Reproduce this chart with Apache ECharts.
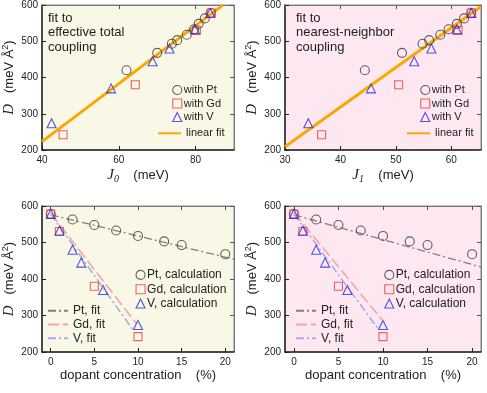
<!DOCTYPE html>
<html><head><meta charset="utf-8">
<script src="https://cdn.jsdelivr.net/npm/echarts@6/dist/echarts.min.js"></script>
<style>html,body{margin:0;padding:0;background:#fff}#c{width:487px;height:393px}</style>
</head><body><div id="c"></div><script>
// ---- Top-left: D vs J0 ----
const j0Pt = [62.0, 70.0, 73.8, 75.2, 77.7, 79.6, 80.8, 82.4, 83.9];
const dPt  = [420, 468, 493, 503, 518, 533, 548, 563, 578];
const j0Gd = [45.5, 64.3, 80.2, 84.1];
const dGd  = [242, 380, 530, 578];
const j0V  = [42.5, 58.0, 68.8, 73.2, 79.8, 83.8];
const dV   = [274, 370, 445, 480, 533, 578];
const j0Fit = [40, 87];
const dFitJ0 = [223, 599];
// ---- Top-right: D vs J1 ----
const j1Pt = [44.4, 51.1, 54.8, 56.0, 58.0, 59.5, 61.0, 62.3, 63.6];
const j1Gd = [36.6, 50.5, 61.2, 63.6];
const j1V  = [34.2, 45.5, 53.3, 56.4, 61.0, 63.6];
const j1Fit = [30, 65.3];
const dFitJ1 = [209, 595];
// ---- Bottom: D vs dopant concentration ----
const concPt = [0, 2.5, 5, 7.5, 10, 13, 15, 20];
const dConcPt = [578, 563, 548, 533, 518, 503, 493, 468];
const concGd = [0, 1, 5, 10];
const dConcGd = [578, 530, 380, 242];
const concV = [0, 1, 2.5, 3.5, 6, 10];
const dConcV = [578, 533, 480, 445, 370, 274];
// fits (left panel)
const ptFitXL = [0, 21], ptFitYL = [576, 454];
const gdFitXL = [0, 9.8], gdFitYL = [580, 278];
const vFitXL  = [0, 9.5], vFitYL  = [578, 258];
// fits (right panel)
const ptFitXR = [0, 21], ptFitYR = [576, 433];
const gdFitXR = [0, 9.9], gdFitYR = [582, 288];
const vFitXR  = [0, 9.5], vFitYR  = [578, 262];
// tick labels
const yTicks = [200, 300, 400, 500, 600];
const j0Ticks = [40, 60, 80];
const j1Ticks = [30, 40, 50, 60];
const concTicks = [0, 5, 10, 15, 20];

const zip = (a, b) => a.map((v, i) => [v, b[i]]);
const SANS = 'Liberation Sans', SERIF = 'Liberation Serif';
const TXT = '#222';
const CREAM = '#f9f8e6', PINK = '#fde8f1';
const C_PT = '#3a3a3a', C_GD = '#f03a3a', C_V = '#2828e6', C_FIT = '#f8a800';

const nameRich = {
  it: {fontFamily: SERIF, fontStyle: 'italic', fontSize: 15, color: TXT, lineHeight: 17},
  sub: {fontFamily: SERIF, fontStyle: 'italic', fontSize: 10, color: TXT, verticalAlign: 'bottom', lineHeight: 17},
  n: {fontFamily: SANS, fontSize: 13, color: TXT, lineHeight: 17},
  sup: {fontFamily: SANS, fontSize: 9, color: TXT, verticalAlign: 'top', lineHeight: 17}
};

const grids = [
  {left: 37, top: 5, width: 197, height: 145, bg: CREAM},
  {left: 285, top: 5, width: 196, height: 145, bg: PINK},
  {left: 37, top: 206, width: 197, height: 146, bg: CREAM},
  {left: 285, top: 206, width: 196, height: 146, bg: PINK}
];
const xSpec = [
  {min: 40, max: 90, ticks: j0Ticks, name: '{it|J}{sub|0}{n|    (meV)}', gap: 17},
  {min: 30, max: 65.35, ticks: j1Ticks, name: '{it|J}{sub|1}{n|    (meV)}', gap: 17},
  {min: -1, max: 21, ticks: concTicks, name: '{n|dopant concentration    (%)}', gap: 15},
  {min: -1, max: 21, ticks: concTicks, name: '{n|dopant concentration    (%)}', gap: 15}
];

const xAxis = [], yAxis = [];
grids.forEach((g, i) => {
  const s = xSpec[i];
  xAxis.push({gridIndex: i, type: 'value', min: s.min, max: s.max, position: 'bottom',
    axisLine: {show: true, onZero: false, lineStyle: {color: '#222', width: 1.5}},
    axisTick: {show: true, inside: true, length: 4, customValues: s.ticks, lineStyle: {color: '#222'}},
    axisLabel: {customValues: s.ticks, fontSize: 10, color: TXT, margin: 5, fontFamily: SANS},
    splitLine: {show: false},
    name: s.name, nameLocation: 'middle', nameGap: s.gap, nameTextStyle: {rich: nameRich}});
  xAxis.push({gridIndex: i, type: 'value', min: s.min, max: s.max, position: 'top',
    axisLine: {show: true, onZero: false, lineStyle: {color: '#777', width: 1}},
    axisTick: {show: true, inside: true, length: 4, customValues: s.ticks, lineStyle: {color: '#555'}},
    axisLabel: {show: false}, splitLine: {show: false}});
  yAxis.push({gridIndex: i, type: 'value', min: 200, max: 600, position: 'left',
    axisLine: {show: true, onZero: false, lineStyle: {color: '#222', width: 1.5}},
    axisTick: {show: true, inside: true, length: 4, customValues: yTicks, lineStyle: {color: '#222'}},
    axisLabel: {customValues: yTicks, fontSize: 10, color: TXT, margin: 4, fontFamily: SANS},
    splitLine: {show: false},
    name: '{it|D}{n|   (meV Å}{sup|2}{n|)}', nameLocation: 'middle', nameGap: 24,
    nameTextStyle: {rich: nameRich}});
  yAxis.push({gridIndex: i, type: 'value', min: 200, max: 600, position: 'right',
    axisLine: {show: true, onZero: false, lineStyle: {color: '#777', width: 1}},
    axisTick: {show: true, inside: true, length: 4, customValues: yTicks, lineStyle: {color: '#555'}},
    axisLabel: {show: false}, splitLine: {show: false}});
});

function scat(name, gi, xs, ys, sym, col, size) {
  return {name, type: 'scatter', xAxisIndex: 2 * gi, yAxisIndex: 2 * gi, data: zip(xs, ys),
    symbol: sym, symbolSize: size,
    itemStyle: {color: 'rgba(0,0,0,0)', borderColor: col, borderWidth: 1.1}, z: 3};
}
function fit(name, gi, xs, ys, col, width, type) {
  return {name, type: 'line', xAxisIndex: 2 * gi, yAxisIndex: 2 * gi, data: zip(xs, ys),
    symbol: 'none', showSymbol: false, silent: true,
    lineStyle: {color: col, width, type}, itemStyle: {color: col}, z: 2};
}
const DASHDOT = [8, 3, 2, 3];
const LONGDASH = [11, 4];

const series = [
  fit('linear fit', 0, j0Fit, dFitJ0, C_FIT, 3, 'solid'),
  scat('with Pt', 0, j0Pt, dPt, 'circle', C_PT, 9),
  scat('with Gd', 0, j0Gd, dGd, 'rect', C_GD, 8),
  scat('with V', 0, j0V, dV, 'triangle', C_V, 9),
  fit('linear fit', 1, j1Fit, dFitJ1, C_FIT, 3, 'solid'),
  scat('with Pt', 1, j1Pt, dPt, 'circle', C_PT, 9),
  scat('with Gd', 1, j1Gd, dGd, 'rect', C_GD, 8),
  scat('with V', 1, j1V, dV, 'triangle', C_V, 9),
  fit('Pt, fit', 2, ptFitXL, ptFitYL, '#808080', 1.3, DASHDOT),
  fit('Gd, fit', 2, gdFitXL, gdFitYL, '#f8a4a4', 1.6, LONGDASH),
  fit('V, fit', 2, vFitXL, vFitYL, '#a4acf2', 1.6, DASHDOT),
  scat('Pt, calculation', 2, concPt, dConcPt, 'circle', C_PT, 9),
  scat('Gd, calculation', 2, concGd, dConcGd, 'rect', C_GD, 8),
  scat('V, calculation', 2, concV, dConcV, 'triangle', C_V, 9),
  fit('Pt, fit', 3, ptFitXR, ptFitYR, '#808080', 1.3, DASHDOT),
  fit('Gd, fit', 3, gdFitXR, gdFitYR, '#f8a4a4', 1.6, LONGDASH),
  fit('V, fit', 3, vFitXR, vFitYR, '#a4acf2', 1.6, DASHDOT),
  scat('Pt, calculation', 3, concPt, dConcPt, 'circle', C_PT, 9),
  scat('Gd, calculation', 3, concGd, dConcGd, 'rect', C_GD, 8),
  scat('V, calculation', 3, concV, dConcV, 'triangle', C_V, 9)
];

function legMarks(data, left, top, fs, lh) {
  return {data, left, top, orient: 'vertical', padding: 0, itemGap: 0.5, itemWidth: 9, itemHeight: 9,
    selectedMode: false, itemStyle: {borderWidth: 1.1},
    textStyle: {fontSize: fs, fontFamily: SANS, color: TXT, lineHeight: lh, padding: [0, 0, 0, -3]}};
}
function legLines(data, left, top, iw, fs, lh) {
  return {data, left, top, orient: 'vertical', padding: 0, itemGap: 0, itemWidth: iw, itemHeight: 9,
    selectedMode: false, itemStyle: {opacity: 0},
    textStyle: {fontSize: fs, fontFamily: SANS, color: TXT, lineHeight: lh}};
}
const legend = [
  legMarks(['with Pt', 'with Gd', 'with V'], 172.2, 83.5, 11, 13),
  legLines(['linear fit'], 157, 126.8, 23, 11, 13),
  legMarks(['with Pt', 'with Gd', 'with V'], 420.2, 83.5, 11, 13),
  legLines(['linear fit'], 406, 126.8, 23, 11, 13),
  legMarks(['Pt, calculation', 'Gd, calculation', 'V, calculation'], 135.5, 268, 12, 13.8),
  legLines(['Pt, fit', 'Gd, fit', 'V, fit'], 47, 303.8, 20, 12, 13.8),
  legMarks(['Pt, calculation', 'Gd, calculation', 'V, calculation'], 384.2, 268, 12, 13.8),
  legLines(['Pt, fit', 'Gd, fit', 'V, fit'], 295, 303.8, 20, 12, 13.8)
];

const graphic = [
  {type: 'text', left: 48, top: 11, z: 10,
    style: {text: 'fit to\neffective total\ncoupling', fontSize: 13, fontFamily: SANS, fill: TXT, lineHeight: 14.5}},
  {type: 'text', left: 296, top: 11, z: 10,
    style: {text: 'fit to\nnearest-neighbor\ncoupling', fontSize: 13, fontFamily: SANS, fill: TXT, lineHeight: 14.5}}
];

const chart = echarts.init(document.getElementById('c'), null, {renderer: 'canvas'});
chart.setOption({
  animation: false,
  backgroundColor: '#fff',
  grid: grids.map(g => ({left: g.left, top: g.top, width: g.width, height: g.height, show: true,
    backgroundColor: g.bg, borderColor: '#888', borderWidth: 1, containLabel: false})),
  xAxis, yAxis, series, legend, graphic
});
</script></body></html>
